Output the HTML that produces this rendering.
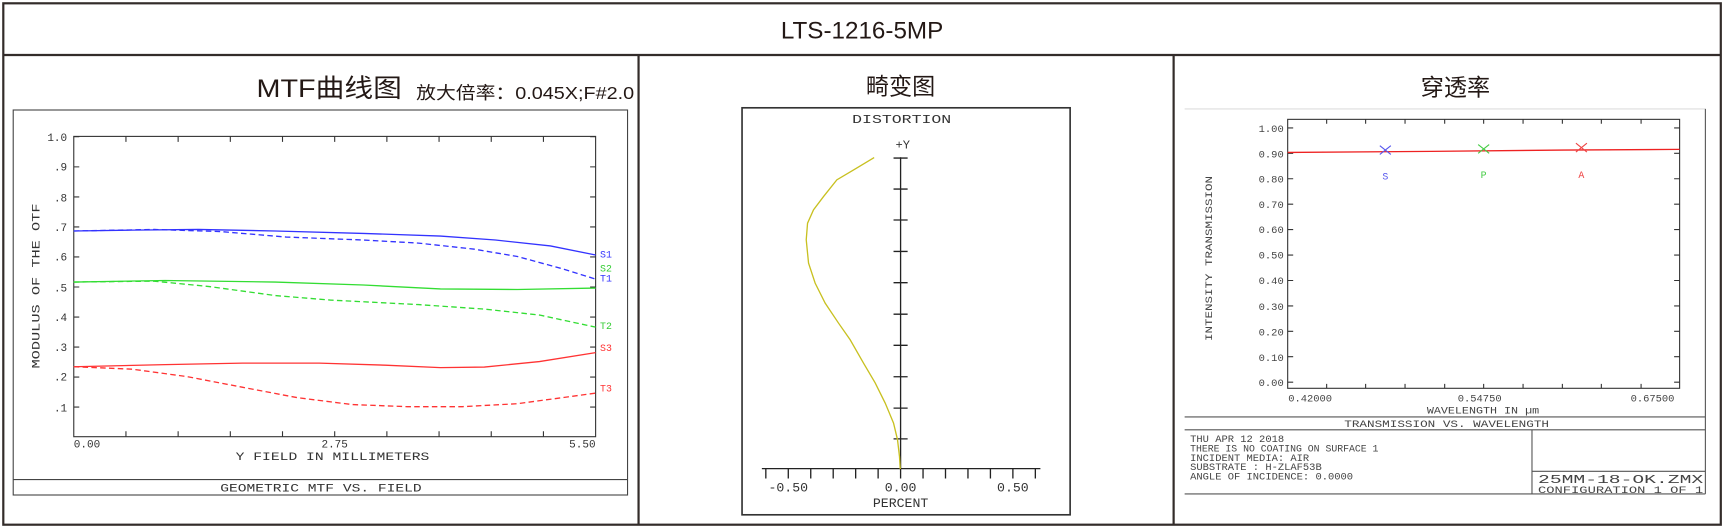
<!DOCTYPE html>
<html><head><meta charset="utf-8"><style>html,body{margin:0;padding:0;background:#fff}svg{display:block}</style></head>
<body>
<svg width="1723" height="528" viewBox="0 0 1565 480" preserveAspectRatio="none" xmlns="http://www.w3.org/2000/svg">
<rect x="0" y="0" width="1565" height="480" fill="#fff"/>
<g fill="none" stroke="#332c2a" stroke-width="2">
<rect x="3" y="3" width="1560" height="474"/>
<line x1="3" y1="50" x2="1563" y2="50"/>
<line x1="580" y1="50" x2="580" y2="477"/>
<line x1="1066" y1="50" x2="1066" y2="477"/>
</g>
<g font-family="Liberation Sans, Noto Sans CJK SC, sans-serif" fill="#231815">
<text x="783" y="35" font-size="22" text-anchor="middle">LTS-1216-5MP</text>
<text x="233" y="88" font-size="23" textLength="132" lengthAdjust="spacingAndGlyphs">MTF曲线图</text>
<text x="378" y="90" font-size="16" textLength="198" lengthAdjust="spacingAndGlyphs">放大倍率：0.045X;F#2.0</text>
<text x="818" y="86" font-size="21" text-anchor="middle">畸变图</text>
<text x="1322" y="87" font-size="21" text-anchor="middle">穿透率</text>
</g>
<!-- MTF -->
<g fill="none" stroke="#444" stroke-width="1">
<rect x="12" y="100" width="558" height="350"/>
<line x1="12" y1="436" x2="570" y2="436"/>
<rect x="67" y="124" width="474" height="273" stroke="#333"/>
</g>
<g stroke="#333" stroke-width="1">
<path d="M67 124.3h5M541 124.3h-5M67 151.7h5M541 151.7h-5M67 179h5M541 179h-5M67 206.3h5M541 206.3h-5M67 233.6h5M541 233.6h-5M67 260.9h5M541 260.9h-5M67 288.2h5M541 288.2h-5M67 315.5h5M541 315.5h-5M67 342.8h5M541 342.8h-5M67 370.1h5M541 370.1h-5"/>
<path d="M114.4 124v5M161.8 124v5M209.2 124v5M256.6 124v5M304 124v5M351.4 124v5M398.8 124v5M446.2 124v5M493.6 124v5M114.4 397v-5M161.8 397v-5M209.2 397v-5M256.6 397v-5M304 397v-5M351.4 397v-5M398.8 397v-5M446.2 397v-5M493.6 397v-5"/>
</g>
<g font-family="Liberation Mono, monospace" font-size="10" fill="#333">
<g text-anchor="end">
<text x="61" y="128">1.0</text><text x="61" y="155">.9</text><text x="61" y="183">.8</text><text x="61" y="210">.7</text><text x="61" y="237">.6</text><text x="61" y="265">.5</text><text x="61" y="292">.4</text><text x="61" y="319">.3</text><text x="61" y="346">.2</text><text x="61" y="374">.1</text>
</g>
<text x="67" y="407">0.00</text><text x="304" y="407" text-anchor="middle">2.75</text><text x="541" y="407" text-anchor="end">5.50</text>
<text x="214" y="418" textLength="176" lengthAdjust="spacingAndGlyphs">Y FIELD IN MILLIMETERS</text>
<text x="200" y="447" textLength="183" lengthAdjust="spacingAndGlyphs">GEOMETRIC MTF VS. FIELD</text>
<text transform="translate(36 335) rotate(-90)" textLength="150" lengthAdjust="spacingAndGlyphs">MODULUS OF THE OTF</text>
</g>
<g fill="none" stroke-width="1.2">
<polyline stroke="#3333ff" points="67,210 120,209.2 180,208.6 250,210 330,212.2 400,214.6 450,218.2 500,223.6 541,231.8"/>
<polyline stroke="#3333ff" stroke-dasharray="5,3" points="67,210 140,208.6 200,210.5 260,215.5 330,218.2 380,221 430,226.4 470,233.2 510,244.1 541,253.7"/>
<polyline stroke="#33dd33" points="67,256.4 150,255 250,256.4 330,259.1 400,262.7 470,263.2 541,261.9"/>
<polyline stroke="#33dd33" stroke-dasharray="5,3" points="67,256.4 140,255.6 190,260.5 250,268.7 300,272.8 380,276.9 440,281 490,286.4 541,297.4"/>
<polyline stroke="#ff3333" points="67,333.4 150,331.5 220,330.1 290,330.1 350,332 400,334.2 440,333.7 490,328.7 541,320.6"/>
<polyline stroke="#ff3333" stroke-dasharray="5,3" points="67,333.4 120,335.6 170,342.4 220,352 270,361.5 320,367.8 370,369.7 420,369.7 470,367 541,357.4"/>
</g>
<g font-family="Liberation Mono, monospace" font-size="9">
<text x="545" y="234" fill="#3333ff">S1</text>
<text x="545" y="247" fill="#33cc33">S2</text>
<text x="545" y="256" fill="#3333ff">T1</text>
<text x="545" y="299" fill="#33cc33">T2</text>
<text x="545" y="319" fill="#ff3333">S3</text>
<text x="545" y="356" fill="#ff3333">T3</text>
</g>
<!-- Distortion -->
<rect x="674" y="98" width="298" height="370" fill="none" stroke="#333" stroke-width="1.5"/>
<g stroke="#222" stroke-width="1.2">
<line x1="818" y1="143" x2="818" y2="426"/>
<path d="M811.6 143.7h12.8M811.6 171.9h12.8M811.6 200h12.8M811.6 228.6h12.8M811.6 257h12.8M811.6 285.6h12.8M811.6 313.9h12.8M811.6 342.5h12.8M811.6 371h12.8M811.6 399h12.8"/>
<line x1="692" y1="426" x2="945" y2="426"/>
<path d="M695.6 426v9M716 426v9M736.4 426v9M756.8 426v9M777.2 426v9M797.6 426v9M818 426v9M838.4 426v9M858.8 426v9M879.2 426v9M899.6 426v9M920 426v9M940.4 426v9"/>
</g>
<polyline fill="none" stroke="#c8c020" stroke-width="1.2" points="794,143.2 775.3,154.5 760.1,163.5 748,178.7 738.9,190.8 733.5,202.9 732.3,218 734.4,239.2 740.4,257.4 749.5,275.6 761.6,293.7 772.2,308.9 784.3,330.1 795,348.2 804,366.4 811.6,384.6 815.2,399.7 817,414.9 817.7,426.4"/>
<g font-family="Liberation Mono, monospace" fill="#333">
<text x="774" y="112" font-size="11" textLength="90" lengthAdjust="spacingAndGlyphs">DISTORTION</text>
<text x="820" y="135" font-size="11" text-anchor="middle">+Y</text>
<text x="716" y="447" font-size="12" text-anchor="middle">-0.50</text>
<text x="818" y="447" font-size="12" text-anchor="middle">0.00</text>
<text x="920" y="447" font-size="12" text-anchor="middle">0.50</text>
<text x="818" y="461" font-size="12" text-anchor="middle">PERCENT</text>
</g>
<!-- Transmission -->
<g fill="none" stroke="#555" stroke-width="1">
<line x1="1076" y1="99" x2="1549" y2="99" stroke="#ddd"/>
<line x1="1549" y1="99" x2="1549" y2="449"/>
<line x1="1076" y1="379" x2="1549" y2="379"/>
<line x1="1076" y1="390.7" x2="1549" y2="390.7"/>
<line x1="1076" y1="449" x2="1549" y2="449"/>
<line x1="1391.5" y1="390.7" x2="1391.5" y2="449"/>
<line x1="1391.5" y1="428.5" x2="1549" y2="428.5"/>
<rect x="1169.6" y="108.5" width="356" height="244.5" stroke="#333"/>
</g>
<g stroke="#333" stroke-width="1">
<path d="M1169.6 116.3h5M1169.6 139.4h5M1169.6 162.5h5M1169.6 185.6h5M1169.6 208.7h5M1169.6 231.9h5M1169.6 255h5M1169.6 278.1h5M1169.6 301.2h5M1169.6 324.3h5M1169.6 347.4h5"/>
<path d="M1525.6 116.3h-5M1525.6 139.4h-5M1525.6 162.5h-5M1525.6 185.6h-5M1525.6 208.7h-5M1525.6 231.9h-5M1525.6 255h-5M1525.6 278.1h-5M1525.6 301.2h-5M1525.6 324.3h-5M1525.6 347.4h-5"/>
<path d="M1205 108.5v4M1240.4 108.5v4M1276.2 108.5v4M1312.2 108.5v4M1347.6 108.5v4M1383.4 108.5v4M1419.1 108.5v4M1454.5 108.5v4M1490.6 108.5v4M1205 353v-4M1240.4 353v-4M1276.2 353v-4M1312.2 353v-4M1347.6 353v-4M1383.4 353v-4M1419.1 353v-4M1454.5 353v-4M1490.6 353v-4"/>
</g>
<polyline fill="none" stroke="#ee2222" stroke-width="1.2" points="1169.6,138.6 1300,137.6 1420,136.4 1525.6,135.8"/>
<g stroke-width="1">
<path d="M1253.3 132.4l10 8M1263.3 132.4l-10 8" stroke="#5555ee"/>
<path d="M1342.6 131.4l10 8M1352.6 131.4l-10 8" stroke="#44cc44"/>
<path d="M1431.4 130.2l10 8M1441.4 130.2l-10 8" stroke="#ee4444"/>
</g>
<g font-family="Liberation Mono, monospace" font-size="9">
<text x="1258.3" y="163" fill="#5555ee" text-anchor="middle">S</text>
<text x="1347.6" y="162" fill="#44cc44" text-anchor="middle">P</text>
<text x="1436.4" y="162" fill="#ee4444" text-anchor="middle">A</text>
</g>
<g font-family="Liberation Mono, monospace" font-size="9.5" fill="#444">
<g text-anchor="end">
<text x="1166" y="120">1.00</text><text x="1166" y="143">0.90</text><text x="1166" y="166">0.80</text><text x="1166" y="189">0.70</text><text x="1166" y="212">0.60</text><text x="1166" y="235">0.50</text><text x="1166" y="258">0.40</text><text x="1166" y="282">0.30</text><text x="1166" y="305">0.20</text><text x="1166" y="328">0.10</text><text x="1166" y="351">0.00</text>
</g>
<text x="1190" y="365" text-anchor="middle">0.42000</text>
<text x="1344" y="365" text-anchor="middle">0.54750</text>
<text x="1501" y="365" text-anchor="middle">0.67500</text>
<text x="1296" y="376" textLength="102" lengthAdjust="spacingAndGlyphs">WAVELENGTH IN µm</text>
<text transform="translate(1101 310) rotate(-90)" textLength="150" lengthAdjust="spacingAndGlyphs">INTENSITY TRANSMISSION</text>
<text x="1221" y="388" textLength="186" lengthAdjust="spacingAndGlyphs">TRANSMISSION VS. WAVELENGTH</text>
<text x="1081" y="402">THU APR 12 2018</text>
<text x="1081" y="410.5" textLength="171" lengthAdjust="spacingAndGlyphs">THERE IS NO COATING ON SURFACE 1</text>
<text x="1081" y="419">INCIDENT MEDIA: AIR</text>
<text x="1081" y="427.5">SUBSTRATE    : H-ZLAF53B</text>
<text x="1081" y="436">ANGLE OF INCIDENCE: 0.0000</text>
<text x="1397" y="439" font-size="11" textLength="150" lengthAdjust="spacingAndGlyphs">25MM-18-OK.ZMX</text>
<text x="1397" y="448" textLength="150" lengthAdjust="spacingAndGlyphs">CONFIGURATION 1 OF 1</text>
</g>
</svg>
</body></html>
